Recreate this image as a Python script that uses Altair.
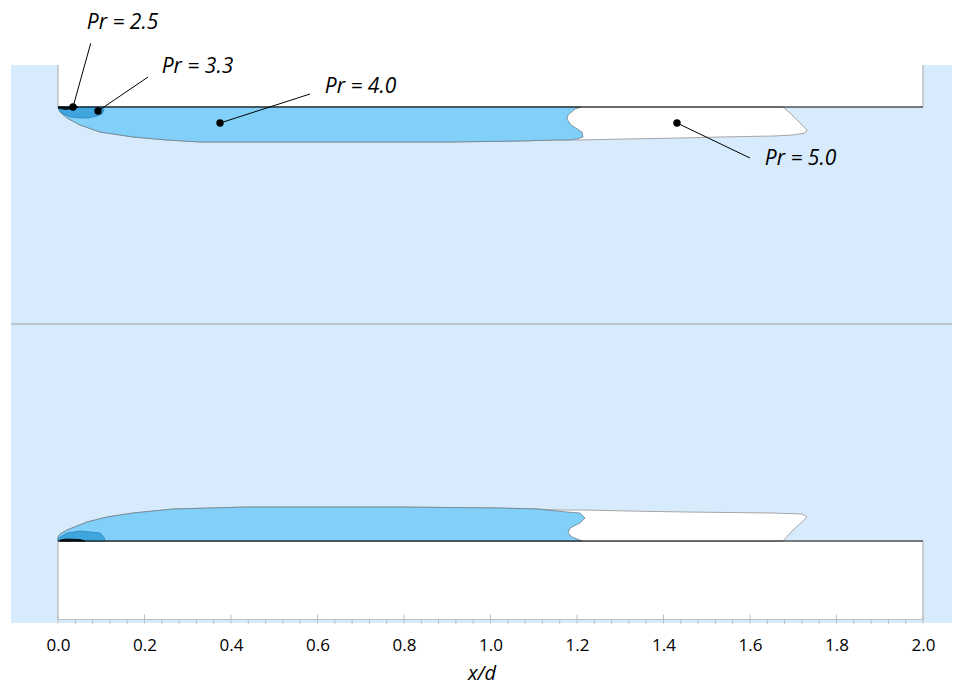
import altair as alt
import pandas as pd

# ---------------- frame (x/d, y/d) ----------------
X_MIN, X_MAX = -0.1087, 2.0671
Y_MIN, Y_MAX = -0.1889, 1.0968
AXIS_Y = -0.1809

major_ticks = [0.0, 0.2, 0.4, 0.6, 0.8, 1.0, 1.2, 1.4, 1.6, 1.8, 2.0]
minor_ticks = [round(0.04 * k, 2) for k in range(51) if k % 5 != 0]

# ---------------- cavity outlines (x/d, y/d) ----------------
# upper wall (y/d = 1)
pr50_top_x = [0, 1.6763, 1.6925, 1.7156, 1.7318, 1.7272, 1.6994, 1.6532, 1.5306, 1.4382, 1.3156, 1.2069, 1.1491,
              1.0682, 0.9064, 0.7908, 0.5595, 0.4439, 0.3283, 0.2520, 0.1734, 0.0971, 0.0509, 0.0208, 0.0046, 0]
pr50_top_y = [1.0, 1.0, 0.9862, 0.9631, 0.9470, 0.9401, 0.9355, 0.9332, 0.9309, 0.9286, 0.9263, 0.9240, 0.9240,
              0.9217, 0.9194, 0.9194, 0.9194, 0.9194, 0.9194, 0.9240, 0.9309, 0.9424, 0.9585, 0.9747, 0.9885, 1.0]

pr40_top_x = [0, 1.2092, 1.1954, 1.1792, 1.1769, 1.1861, 1.2116, 1.2139, 1.2000, 1.1792, 1.1491, 1.0682, 0.9064,
              0.7908, 0.5595, 0.4439, 0.3283, 0.2520, 0.1734, 0.0971, 0.0509, 0.0208, 0.0046, 0]
pr40_top_y = [1.0, 1.0, 0.9954, 0.9816, 0.9724, 0.9585, 0.9424, 0.9309, 0.9263, 0.9240, 0.9240, 0.9217, 0.9194,
              0.9194, 0.9194, 0.9194, 0.9194, 0.9240, 0.9309, 0.9424, 0.9585, 0.9747, 0.9885, 1.0]

pr33_top_x = [0, 0.1017, 0.1064, 0.1017, 0.0902, 0.0694, 0.0509, 0.0277, 0.0116, 0.0023, 0]
pr33_top_y = [1.0, 1.0, 0.9931, 0.9839, 0.9793, 0.9747, 0.9747, 0.9770, 0.9839, 0.9931, 1.0]

pr25_top_x = [0, 0.0462, 0.0393, 0.0162, 0]
pr25_top_y = [1.0, 1.0, 0.9965, 0.9942, 0.9977]

# lower wall (y/d = 0)
pr50_bot_x = [0, 1.6763, 1.6994, 1.7202, 1.7318, 1.7202, 1.6532, 1.4543, 1.3225, 1.2139, 1.1607, 1.1075, 1.0220,
              0.7908, 0.6058, 0.4370, 0.2659, 0.1734, 0.1133, 0.0671, 0.0208, 0.0046, 0, 0]
pr50_bot_y = [0, 0, 0.0253, 0.0438, 0.0553, 0.0622, 0.0645, 0.0668, 0.0691, 0.0714, 0.0714, 0.0737, 0.0760,
              0.0783, 0.0783, 0.0783, 0.0737, 0.0645, 0.0553, 0.0438, 0.0253, 0.0161, 0.0092, 0]

pr40_bot_x = [0, 1.2116, 1.1884, 1.1792, 1.1838, 1.2069, 1.2185, 1.2069, 1.1769, 1.1075, 1.0220, 0.7908, 0.6058,
              0.4370, 0.2659, 0.1734, 0.1133, 0.0671, 0.0208, 0.0046, 0, 0]
pr40_bot_y = [0, 0, 0.0092, 0.0184, 0.0300, 0.0415, 0.0530, 0.0645, 0.0668, 0.0737, 0.0760, 0.0783, 0.0783,
              0.0783, 0.0737, 0.0645, 0.0553, 0.0438, 0.0253, 0.0161, 0.0092, 0]

pr33_bot_x = [0, 0.1087, 0.1064, 0.0971, 0.0740, 0.0509, 0.0208, 0.0046, 0, 0]
pr33_bot_y = [0, 0, 0.0092, 0.0184, 0.0207, 0.0230, 0.0184, 0.0092, 0.0046, 0]

pr25_bot_x = [0.0046, 0.0624, 0.0509, 0.0185, 0.0046]
pr25_bot_y = [0, 0, 0.0035, 0.0046, 0.0023]

# ---------------- annotations ----------------
labels = ["Pr = 2.5", "Pr = 3.3", "Pr = 4.0", "Pr = 5.0"]
dot_x = [0.0347, 0.0925, 0.3746, 1.4312]
dot_y = [1.0, 0.9908, 0.9631, 0.9631]
lead_x = [0.0756, 0.2081, 0.5827, 1.6000]
lead_y = [1.1468, 1.0691, 1.0300, 0.8825]
label_x = [0.1491, 0.3225, 0.6994, 1.7168]
label_y = [1.1797, 1.0783, 1.0323, 0.8664]

# ---------------- colours ----------------
BG = "#d7ebfc"
C40 = "#80d0fa"
C33 = "#3fa6dd"
C25 = "#0d2233"

# ---------------- encodings ----------------
xscale = alt.Scale(domain=[X_MIN, X_MAX], nice=False, zero=False)
yscale = alt.Scale(domain=[Y_MIN, Y_MAX], nice=False, zero=False)
xaxis = alt.Axis(values=major_ticks, format=".1f", ticks=False, tickSize=0, domain=False, grid=False,
                 labelFont="Open Sans", labelFontSize=17, labelColor="#000000", labelPadding=14,
                 labelFlush=False, labelOverlap=False,
                 title="x/d", titleFont="Open Sans", titleFontStyle="italic", titleFontSize=20,
                 titleFontWeight="normal", titleColor="#000000", titlePadding=10)


def X(f):
    return alt.X(f, type="quantitative", scale=xscale, axis=xaxis)


def Y(f):
    return alt.Y(f, type="quantitative", scale=yscale, axis=None)


def poly(pairs):
    rows = []
    for part, (xs, ys) in enumerate(pairs):
        for i, (a, b) in enumerate(zip(xs, ys)):
            rows.append({"x": a, "y": b, "i": i, "part": part})
    return pd.DataFrame(rows)


def region(pairs, fill, stroke, sw):
    return alt.Chart(poly(pairs)).mark_line(fill=fill, stroke=stroke, strokeWidth=sw).encode(
        x=X("x"), y=Y("y"), order=alt.Order("i:Q"), detail="part:N")


# walls (white solid blocks)
blocks = pd.DataFrame({"x": [0, 0], "x2": [2.0, 2.0], "y": [1.0, AXIS_Y], "y2": [Y_MAX, 0.0]})
block_layer = alt.Chart(blocks).mark_rect(fill="white", strokeWidth=0).encode(
    x=X("x"), x2="x2", y=Y("y"), y2="y2")

sides = pd.DataFrame({"x": [0, 2.0, 0, 2.0], "y": [1.0, 1.0, AXIS_Y, AXIS_Y], "y2": [Y_MAX, Y_MAX, 0, 0]})
side_layer = alt.Chart(sides).mark_rule(color="#a6a6a6", strokeWidth=1).encode(x=X("x"), y=Y("y"), y2="y2")

walls = pd.DataFrame({"x": [0, 0], "x2": [2.0, 2.0], "y": [1.0, 0.0]})
wall_layer = alt.Chart(walls).mark_rule(color="#000000", strokeWidth=1).encode(x=X("x"), x2="x2", y=Y("y"))

mid = pd.DataFrame({"x": [X_MIN], "x2": [X_MAX], "y": [0.5]})
mid_layer = alt.Chart(mid).mark_rule(color="#a0a0a0", strokeWidth=1).encode(x=X("x"), x2="x2", y=Y("y"))

axis_line = pd.DataFrame({"x": [0], "x2": [2.0], "y": [AXIS_Y]})
axis_layer = alt.Chart(axis_line).mark_rule(color="#bfbfbf", strokeWidth=1).encode(x=X("x"), x2="x2", y=Y("y"))

maj = pd.DataFrame({"x": major_ticks, "y": [AXIS_Y] * len(major_ticks)})
maj_layer = alt.Chart(maj).mark_tick(orient="vertical", size=9, thickness=1, color="#bfbfbf", yOffset=-0.5,
                                     opacity=1).encode(x=X("x"), y=Y("y"))
mnr = pd.DataFrame({"x": minor_ticks, "y": [AXIS_Y] * len(minor_ticks)})
mnr_layer = alt.Chart(mnr).mark_tick(orient="vertical", size=5, thickness=1, color="#bfbfbf", yOffset=2,
                                     opacity=1).encode(x=X("x"), y=Y("y"))

pr50 = region([(pr50_top_x, pr50_top_y), (pr50_bot_x, pr50_bot_y)], "#ffffff", "#a6a6a6", 1)
pr40 = region([(pr40_top_x, pr40_top_y), (pr40_bot_x, pr40_bot_y)], C40, "#6f7f8a", 0.8)
pr33 = region([(pr33_top_x, pr33_top_y), (pr33_bot_x, pr33_bot_y)], C33, "#2f86bd", 0.8)
pr25 = region([(pr25_top_x, pr25_top_y), (pr25_bot_x, pr25_bot_y)], C25, "#000000", 0.8)

ann = pd.DataFrame({"x": dot_x, "y": dot_y, "x2": lead_x, "y2": lead_y,
                    "lx": label_x, "ly": label_y, "label": labels})
lead_layer = alt.Chart(ann).mark_rule(color="#000000", strokeWidth=1).encode(
    x=X("x"), y=Y("y"), x2="x2", y2="y2")
dot_layer = alt.Chart(ann).mark_circle(size=55, color="#000000", opacity=1).encode(x=X("x"), y=Y("y"))
text_layer = alt.Chart(ann).mark_text(font="Open Sans", fontStyle="italic", fontSize=21, align="center",
                                      baseline="alphabetic", color="#000000").encode(
    x=X("lx"), y=Y("ly"), text="label:N")

chart = alt.layer(
    block_layer, side_layer, pr50, pr40, pr33, pr25, wall_layer, mid_layer,
    axis_layer, maj_layer, mnr_layer, lead_layer, dot_layer, text_layer
).properties(
    width=941, height=558,
    padding={"left": 3, "top": 57, "right": 0, "bottom": 62},
    autosize=alt.AutoSizeParams(type="none"),
).configure_view(fill=BG, strokeWidth=0)

chart.save("out.html", embed_options={"renderer": "svg", "actions": False})
